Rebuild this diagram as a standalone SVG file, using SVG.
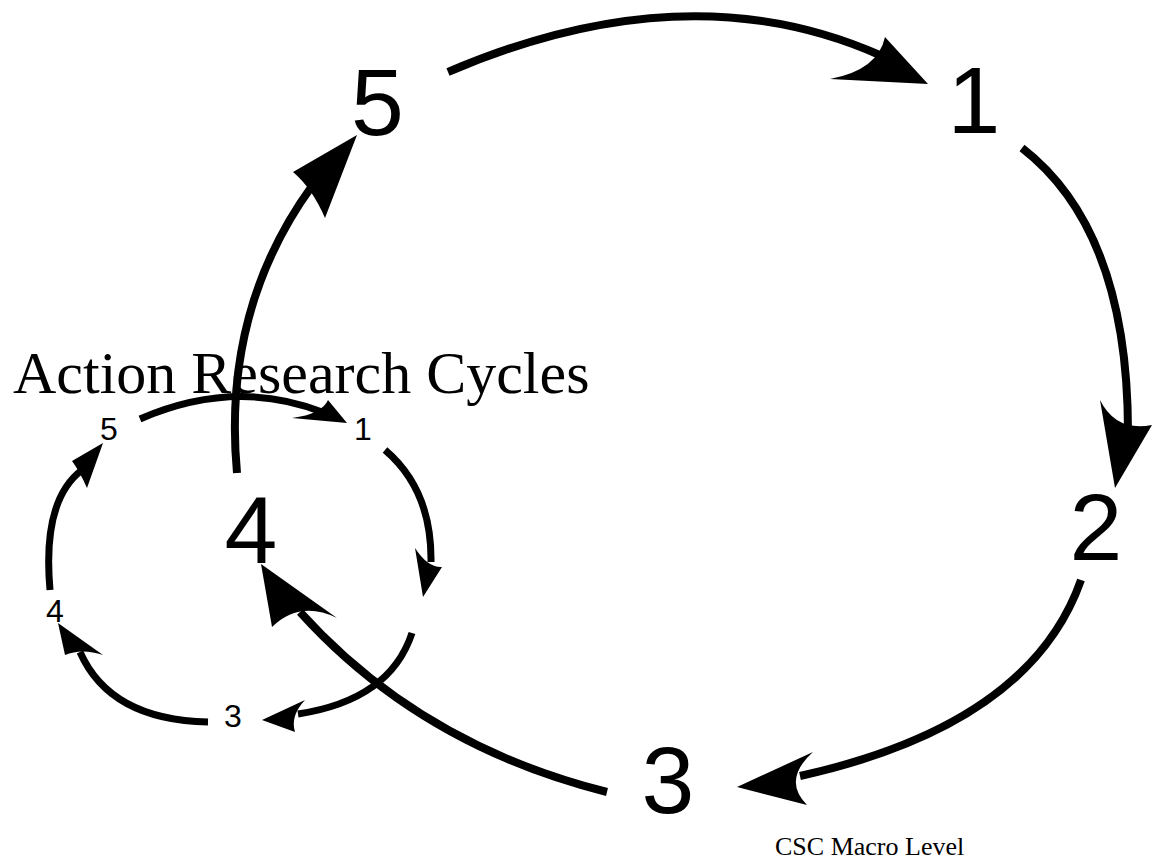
<svg xmlns="http://www.w3.org/2000/svg" width="1153" height="865" viewBox="0 0 1153 865">
<style>
.big{font-family:"Liberation Sans",Arial,sans-serif;font-size:95px;fill:#000;text-anchor:middle}
.sm{font-family:"Liberation Sans",Arial,sans-serif;font-size:32px;fill:#000;text-anchor:middle}
.ttl{font-family:"Liberation Serif","Times New Roman",serif;fill:#000}
.ln{fill:none;stroke:#000;stroke-width:7}
.lnb{fill:none;stroke:#000;stroke-width:8}
.hd{fill:#000;stroke:none}
</style>
<rect width="1153" height="865" fill="#fff"/>
<g id="title"><text class="ttl" x="13" y="393" font-size="60">Action Research Cycles</text></g>
<g id="caption"><text class="ttl" x="775" y="855" font-size="26">CSC Macro Level</text></g>
<g id="connectors">
  <path class="lnb" d="M448,72 Q688,-31 882,56"/>
  <path class="hd" d="M928,84 L885,37 Q878,70 830,79 Z"/>
  <path class="lnb" d="M1022,148 Q1128,230 1128,432"/>
  <path class="hd" d="M1115,488 L1100,400 Q1116,432 1152,425 Z"/>
  <path class="lnb" d="M1081,580 Q1030,725 800,776"/>
  <path class="hd" d="M737,787 L813,752 Q782,780 807,805 Z"/>
  <path class="lnb" d="M607,792 Q420,745 300,612"/>
  <path class="hd" d="M261,564 L337,618 Q300,600 272,627 Z"/>
  <path class="lnb" d="M237,473 Q222,310 312,186"/>
  <path class="hd" d="M357,135 L293,172 Q312,188 325,218 Z"/>
  <path class="ln" d="M140,419 Q235,378 322,412"/>
  <path class="hd" d="M347,423 L328,400 Q322,414 292,418 Z"/>
  <path class="ln" d="M385,450 Q432,490 431,562"/>
  <path class="hd" d="M423,597 L415,548 Q428,568 442,567 Z"/>
  <path class="ln" d="M412,633 Q390,700 298,714"/>
  <path class="hd" d="M262,720 L305,700 Q290,716 295,732 Z"/>
  <path class="ln" d="M208,722 Q110,720 80,652"/>
  <path class="hd" d="M58,623 L65,655 Q82,648 103,655 Z"/>
  <path class="ln" d="M50,590 Q42,500 82,470"/>
  <path class="hd" d="M103,443 L72,461 Q80,472 87,488 Z"/>
</g>
<g id="big5"><text class="big" x="377.5" y="135">5</text></g>
<g id="big1"><text class="big" x="974" y="133">1</text></g>
<g id="big2"><text class="big" x="1096" y="560">2</text></g>
<g id="big3"><text class="big" x="668" y="813">3</text></g>
<g id="big4"><text class="big" x="251" y="563">4</text></g>
<g id="small5"><text class="sm" x="109" y="440">5</text></g>
<g id="small1"><text class="sm" x="363" y="440">1</text></g>
<g id="small4"><text class="sm" x="55" y="622">4</text></g>
<g id="small3"><text class="sm" x="233" y="727">3</text></g>
</svg>
